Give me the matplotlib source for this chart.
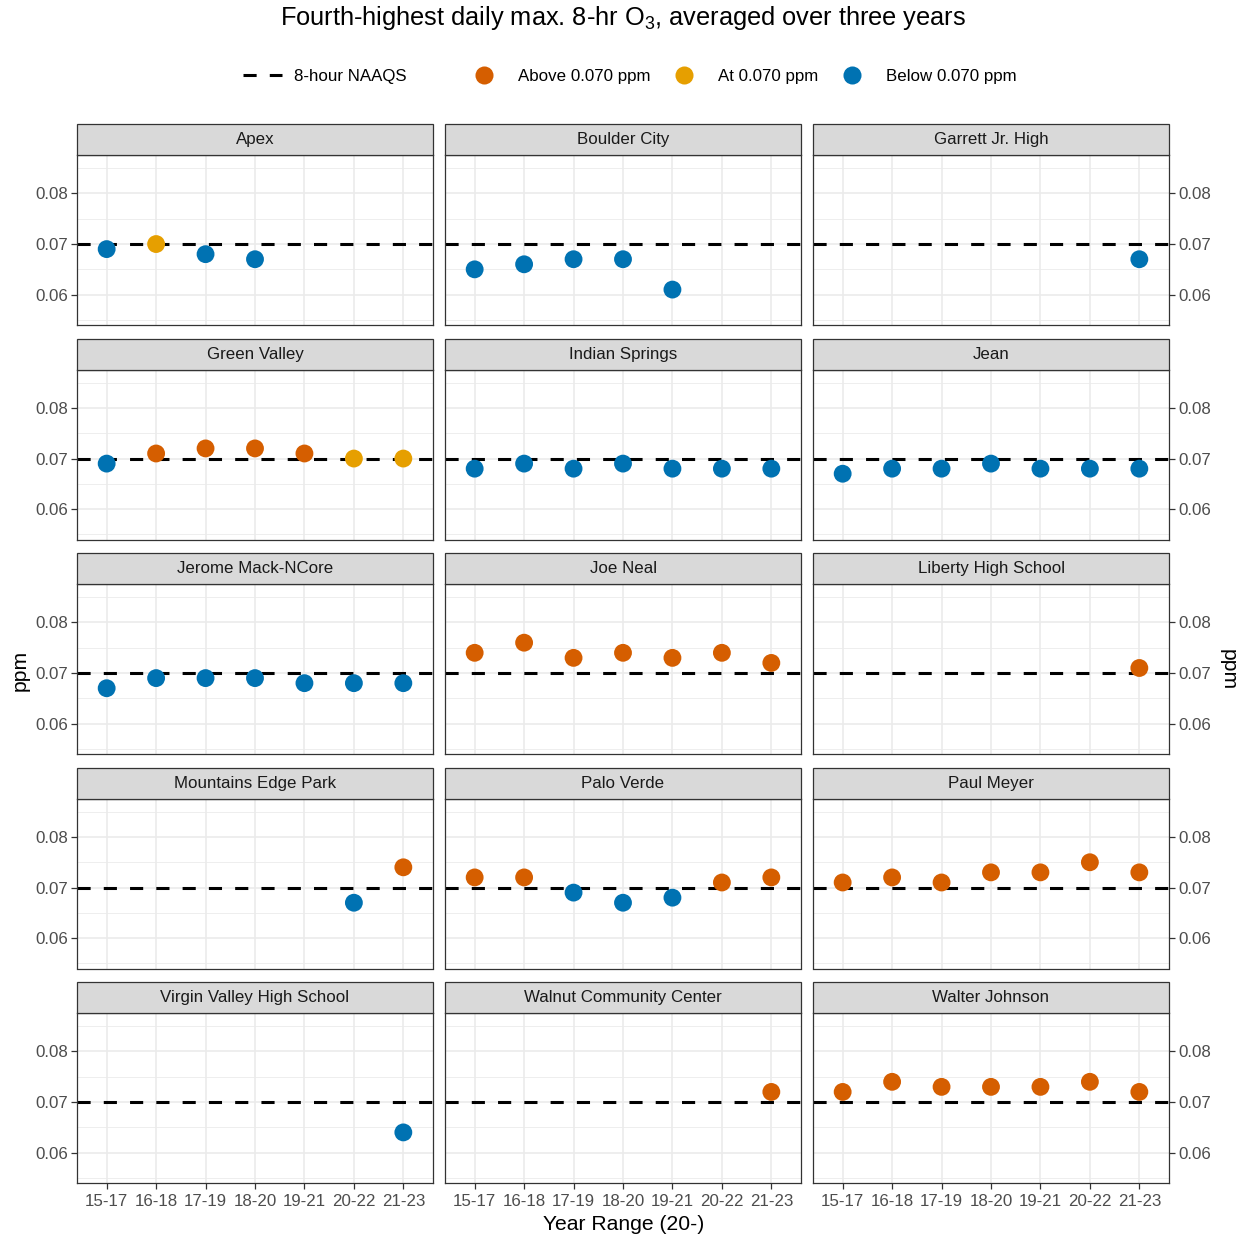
import numpy as np
import matplotlib
matplotlib.use("Agg")
import matplotlib.pyplot as plt
from matplotlib.lines import Line2D
from matplotlib.patches import Rectangle

plt.rcParams["font.family"] = ["Liberation Sans", "DejaVu Sans"]
plt.rcParams["mathtext.fontset"] = "custom"
plt.rcParams["mathtext.rm"] = "Liberation Sans"
plt.rcParams["mathtext.it"] = "Liberation Sans:italic"
plt.rcParams["mathtext.bf"] = "Liberation Sans:bold"

# ---- data -------------------------------------------------------------
year_ranges = ["15-17", "16-18", "17-19", "18-20", "19-21", "20-22", "21-23"]
nan = np.nan

sites = [
    "Apex", "Boulder City", "Garrett Jr. High",
    "Green Valley", "Indian Springs", "Jean",
    "Jerome Mack-NCore", "Joe Neal", "Liberty High School",
    "Mountains Edge Park", "Palo Verde", "Paul Meyer",
    "Virgin Valley High School", "Walnut Community Center", "Walter Johnson",
]

apex = [0.069, 0.070, 0.068, 0.067, nan, nan, nan]
boulder_city = [0.065, 0.066, 0.067, 0.067, 0.061, nan, nan]
garrett_jr_high = [nan, nan, nan, nan, nan, nan, 0.067]
green_valley = [0.069, 0.071, 0.072, 0.072, 0.071, 0.070, 0.070]
indian_springs = [0.068, 0.069, 0.068, 0.069, 0.068, 0.068, 0.068]
jean = [0.067, 0.068, 0.068, 0.069, 0.068, 0.068, 0.068]
jerome_mack = [0.067, 0.069, 0.069, 0.069, 0.068, 0.068, 0.068]
joe_neal = [0.074, 0.076, 0.073, 0.074, 0.073, 0.074, 0.072]
liberty_hs = [nan, nan, nan, nan, nan, nan, 0.071]
mountains_edge = [nan, nan, nan, nan, nan, 0.067, 0.074]
palo_verde = [0.072, 0.072, 0.069, 0.067, 0.068, 0.071, 0.072]
paul_meyer = [0.071, 0.072, 0.071, 0.073, 0.073, 0.075, 0.073]
virgin_valley_hs = [nan, nan, nan, nan, nan, nan, 0.064]
walnut_cc = [nan, nan, nan, nan, nan, nan, 0.072]
walter_johnson = [0.072, 0.074, 0.073, 0.073, 0.073, 0.074, 0.072]

site_values = [
    apex, boulder_city, garrett_jr_high,
    green_valley, indian_springs, jean,
    jerome_mack, joe_neal, liberty_hs,
    mountains_edge, palo_verde, paul_meyer,
    virgin_valley_hs, walnut_cc, walter_johnson,
]

naaqs = 0.070
y_ticks = [0.06, 0.07, 0.08]
y_minor = [0.055, 0.065, 0.075, 0.085]

# ---- style ------------------------------------------------------------
c_above = "#D55E00"
c_at = "#E69F00"
c_below = "#0072B2"
grid_c = "#EBEBEB"
border_c = "#333333"
strip_fill = "#D9D9D9"
tick_text_c = "#4D4D4D"
small_fs = 12.2
axis_fs = 15.2

W, H = 1242, 1236
fig = plt.figure(figsize=(W / 100, H / 100), dpi=100)

col_left = [77, 445, 813]
panel_w = 356
panel_h = 170
strip_h = 31
first_top = 155
row_pitch = 214.5


def point_colour(v):
    if v > naaqs + 1e-9:
        return c_above
    if abs(v - naaqs) < 1e-9:
        return c_at
    return c_below


x = np.arange(len(year_ranges))

for i, (name, vals) in enumerate(zip(sites, site_values)):
    r, c = divmod(i, 3)
    top = first_top + r * row_pitch
    ax = fig.add_axes([col_left[c] / W, 1 - (top + panel_h) / H,
                       panel_w / W, panel_h / H])
    ax.set_xlim(-0.6, len(year_ranges) - 1 + 0.6)
    ax.set_ylim(0.0540, 0.0876)

    # grid
    ax.set_axisbelow(True)
    for yv in y_minor:
        ax.axhline(yv, color=grid_c, lw=0.6, zorder=0)
    for yv in y_ticks:
        ax.axhline(yv, color=grid_c, lw=1.2, zorder=0)
    for xv in x:
        ax.axvline(xv, color=grid_c, lw=1.2, zorder=0)

    # standard line
    ax.axhline(naaqs, color="black", lw=2.2, linestyle=(0, (4.3, 4.3)), zorder=2)

    vals = np.asarray(vals, dtype=float)
    ok = ~np.isnan(vals)
    cols = [point_colour(v) for v in vals[ok]]
    ax.scatter(x[ok], vals[ok], s=165, c=cols, edgecolors="none", zorder=3)

    for sp in ax.spines.values():
        sp.set_color(border_c)
        sp.set_linewidth(0.9)

    # facet strip
    ax.add_patch(Rectangle((0, 1), 1, strip_h / panel_h, transform=ax.transAxes,
                           facecolor=strip_fill, edgecolor=border_c, lw=0.9,
                           clip_on=False, zorder=5))
    ax.text(0.5, 1 + strip_h / panel_h / 2, name, transform=ax.transAxes,
            ha="center", va="center", fontsize=small_fs, color="#1A1A1A", zorder=6)

    ax.set_yticks(y_ticks)
    ax.set_yticklabels([f"{t:.2f}" for t in y_ticks])
    ax.set_xticks(x)
    ax.set_xticklabels(year_ranges)
    ax.tick_params(axis="both", which="both", length=4, width=0.9,
                   color=border_c, labelcolor=tick_text_c, labelsize=small_fs, pad=2.5)
    ax.tick_params(axis="x", pad=4)

    if c == 0:
        ax.tick_params(axis="y", left=True, labelleft=True, right=False, labelright=False)
    elif c == 2:
        ax.tick_params(axis="y", left=False, labelleft=False, right=True, labelright=True)
    else:
        ax.tick_params(axis="y", left=False, labelleft=False)

    if r == 4:
        ax.tick_params(axis="x", bottom=True, labelbottom=True)
    else:
        ax.tick_params(axis="x", bottom=False, labelbottom=False)

# ---- titles -----------------------------------------------------------
fig.text(623 / W, 1 - 18 / H,
         "Fourth-highest daily max. 8-hr O$_3$, averaged over three years",
         ha="center", va="center", fontsize=18.3, color="black")
fig.text(624 / W, 1 - 1224 / H, "Year Range (20-)", ha="center", va="center",
         fontsize=axis_fs, color="black")
fig.text(20 / W, 1 - 670 / H, "ppm", ha="center", va="center", rotation=90,
         fontsize=axis_fs, color="black")
fig.text(1228 / W, 1 - 670 / H, "ppm", ha="center", va="center", rotation=-90,
         fontsize=axis_fs, color="black")

# ---- legends ----------------------------------------------------------
line_handle = [Line2D([], [], color="black", lw=2.2, linestyle=(0, (4.3, 4.3)))]
leg1 = fig.legend(line_handle, ["8-hour NAAQS"], loc="center left",
                  bbox_to_anchor=(243 / W, 1 - 76 / H), frameon=False,
                  fontsize=small_fs, handlelength=2.3, handletextpad=0.7,
                  borderpad=0, borderaxespad=0)

pt_handles = [Line2D([], [], marker="o", linestyle="none", markersize=13,
                     markerfacecolor=cc, markeredgecolor="none")
              for cc in (c_above, c_at, c_below)]
leg2 = fig.legend(pt_handles, ["Above 0.070 ppm", "At 0.070 ppm", "Below 0.070 ppm"],
                  loc="center left", bbox_to_anchor=(474 / W, 1 - 76 / H),
                  frameon=False, fontsize=small_fs, ncol=3, handlelength=1.2,
                  handletextpad=1.4, columnspacing=1.4, borderpad=0,
                  borderaxespad=0)

fig.savefig("out.png", dpi=100)
